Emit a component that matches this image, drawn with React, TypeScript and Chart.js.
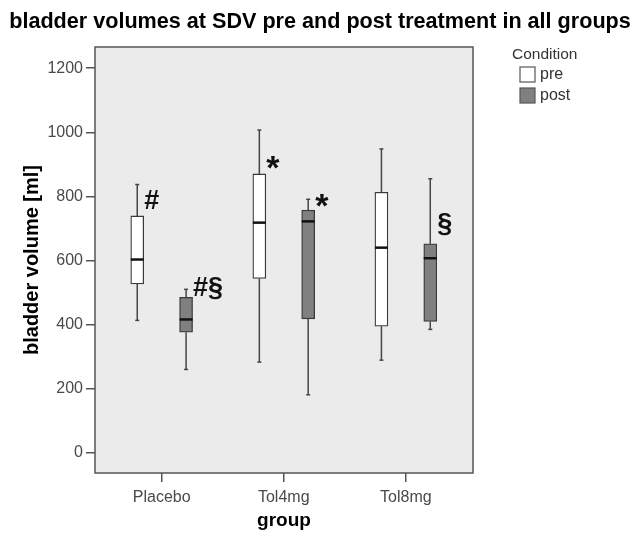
import React, { useEffect, useRef } from "react";
import { Chart, registerables } from "chart.js";

Chart.register(...registerables);

// ---- data ----
const categories = ["Placebo", "Tol4mg", "Tol8mg"];
const yTickValues = [0, 200, 400, 600, 800, 1000, 1200];
const seriesNames = ["pre", "post"];
const chartTitle = "bladder volumes at SDV pre and post treatment in all groups";
const legendTitle = "Condition";

const preMin = [413, 283, 289];
const preQ1 = [527, 544, 395];
const preMedian = [603, 718, 640];
const preQ3 = [739, 870, 813];
const preMax = [837, 1007, 948];

const postMin = [260, 181, 385];
const postQ1 = [376, 418, 410];
const postMedian = [416, 722, 607];
const postQ3 = [485, 757, 652];
const postMax = [510, 791, 855];

const preNotes = ["#", "*", ""];
const preNoteValues = [760, 853, 0];
const postNotes = ["#§", "*", "§"];
const postNoteValues = [489, 735, 690];

// ---- styles ----
const FONT = "'Liberation Sans', Arial, Helvetica, sans-serif";
const GROUP_OFFSET = 0.2;
const BOX_WIDTH = 13;
const PLOT_BG = "#ebebeb";
const PRE_FILL = "#ffffff";
const POST_FILL = "#808080";
const BOX_STROKE = "#3a3a3a";
const WHISKER = "#454545";
const AXIS_COLOR = "#555555";
const TICK_COLOR = "#4a4a4a";

const stats = [
  { min: preMin, q1: preQ1, med: preMedian, q3: preQ3, max: preMax, notes: preNotes, noteValues: preNoteValues },
  { min: postMin, q1: postQ1, med: postMedian, q3: postQ3, max: postMax, notes: postNotes, noteValues: postNoteValues },
];

const boxPlugin = {
  id: "boxExtras",
  beforeDraw(chart: any) {
    const { ctx, chartArea } = chart;
    ctx.save();
    ctx.fillStyle = "#ffffff";
    ctx.fillRect(0, 0, chart.width, chart.height);
    ctx.fillStyle = PLOT_BG;
    ctx.fillRect(chartArea.left, chartArea.top, chartArea.right - chartArea.left, chartArea.bottom - chartArea.top);
    ctx.restore();
  },
  beforeDatasetsDraw(chart: any) {
    const { ctx } = chart;
    const y = chart.scales.y;
    ctx.save();
    ctx.strokeStyle = WHISKER;
    ctx.lineWidth = 1.5;
    stats.forEach((s, d) => {
      const meta = chart.getDatasetMeta(d);
      meta.data.forEach((bar: any, i: number) => {
        const x = bar.x;
        const segs = [
          [s.q3[i], s.max[i]],
          [s.q1[i], s.min[i]],
        ];
        segs.forEach(([a, b]) => {
          ctx.beginPath();
          ctx.moveTo(x, y.getPixelForValue(a));
          ctx.lineTo(x, y.getPixelForValue(b));
          ctx.stroke();
        });
        [s.max[i], s.min[i]].forEach((v) => {
          const py = y.getPixelForValue(v);
          ctx.beginPath();
          ctx.moveTo(x - 2, py);
          ctx.lineTo(x + 2, py);
          ctx.stroke();
        });
      });
    });
    ctx.restore();
  },
  afterDatasetsDraw(chart: any) {
    const { ctx, chartArea } = chart;
    const y = chart.scales.y;
    ctx.save();
    // medians
    ctx.strokeStyle = "#111111";
    ctx.lineWidth = 2.5;
    stats.forEach((s, d) => {
      const meta = chart.getDatasetMeta(d);
      meta.data.forEach((bar: any, i: number) => {
        const py = y.getPixelForValue(s.med[i]);
        ctx.beginPath();
        ctx.moveTo(bar.x - bar.width / 2, py);
        ctx.lineTo(bar.x + bar.width / 2, py);
        ctx.stroke();
      });
    });
    // annotations
    ctx.fillStyle = "#111111";
    ctx.textAlign = "left";
    ctx.textBaseline = "alphabetic";
    stats.forEach((s, d) => {
      const meta = chart.getDatasetMeta(d);
      meta.data.forEach((bar: any, i: number) => {
        const t = s.notes[i];
        if (!t) return;
        ctx.font = `bold ${t === "*" ? 34 : 27}px ${FONT}`;
        ctx.fillText(t, bar.x + 7, y.getPixelForValue(s.noteValues[i]));
      });
    });
    // plot border
    ctx.strokeStyle = AXIS_COLOR;
    ctx.lineWidth = 1.5;
    ctx.strokeRect(chartArea.left, chartArea.top, chartArea.right - chartArea.left, chartArea.bottom - chartArea.top);
    ctx.restore();
  },
  afterDraw(chart: any) {
    const { ctx } = chart;
    ctx.save();
    // title
    ctx.fillStyle = "#000000";
    ctx.textAlign = "center";
    ctx.textBaseline = "alphabetic";
    ctx.font = `bold 21.6px ${FONT}`;
    ctx.fillText(chartTitle, 320, 27.5);
    // legend
    ctx.fillStyle = "#333333";
    ctx.textBaseline = "middle";
    ctx.textAlign = "left";
    ctx.font = `15.5px ${FONT}`;
    ctx.fillText(legendTitle, 512, 55);
    const fills = [PRE_FILL, POST_FILL];
    seriesNames.forEach((name, k) => {
      const top = 67 + k * 21;
      ctx.fillStyle = fills[k];
      ctx.fillRect(520, top, 15, 15);
      ctx.strokeStyle = "#555555";
      ctx.lineWidth = 1.2;
      ctx.strokeRect(520, top, 15, 15);
      ctx.fillStyle = "#333333";
      ctx.font = `16px ${FONT}`;
      ctx.fillText(name, 540, top + 8);
    });
    ctx.restore();
  },
};

export default function App() {
  const ref = useRef<HTMLCanvasElement | null>(null);

  useEffect(() => {
    if (!ref.current) return;
    const chart = new Chart(ref.current, {
      type: "bar",
      data: {
        datasets: [
          {
            label: seriesNames[0],
            data: categories.map((_, i) => ({ x: i - GROUP_OFFSET, y: [preQ1[i], preQ3[i]] })) as any,
            backgroundColor: PRE_FILL,
            borderColor: BOX_STROKE,
            borderWidth: 1.3,
            borderSkipped: false,
            grouped: false,
            barThickness: BOX_WIDTH,
          },
          {
            label: seriesNames[1],
            data: categories.map((_, i) => ({ x: i + GROUP_OFFSET, y: [postQ1[i], postQ3[i]] })) as any,
            backgroundColor: POST_FILL,
            borderColor: BOX_STROKE,
            borderWidth: 1.3,
            borderSkipped: false,
            grouped: false,
            barThickness: BOX_WIDTH,
          },
        ],
      },
      options: {
        animation: false,
        responsive: false,
        maintainAspectRatio: false,
        layout: { padding: { left: 0, right: 162, top: 47, bottom: 0 } },
        plugins: {
          legend: { display: false },
          tooltip: { enabled: false },
          title: { display: false },
        },
        scales: {
          x: {
            type: "linear",
            min: -0.546,
            max: 2.55,
            offset: false,
            afterBuildTicks: (scale: any) => {
              scale.ticks = categories.map((_, i) => ({ value: i }));
            },
            afterFit: (scale: any) => {
              scale.height = 62;
            },
            ticks: {
              callback: (v: any) => categories[v] ?? "",
              color: TICK_COLOR,
              font: { family: FONT, size: 16 },
              padding: 6,
              maxRotation: 0,
              autoSkip: false,
            },
            grid: {
              display: true,
              offset: false,
              drawOnChartArea: false,
              drawTicks: true,
              tickLength: 9,
              color: AXIS_COLOR,
              lineWidth: 1.5,
            },
            border: { display: false },
            title: {
              display: true,
              text: "group",
              color: "#000000",
              font: { family: FONT, size: 19, weight: "bold" },
              padding: { top: 0, bottom: 2.6 },
            },
          },
          y: {
            type: "linear",
            min: -63,
            max: 1266,
            afterBuildTicks: (scale: any) => {
              scale.ticks = yTickValues.map((v) => ({ value: v }));
            },
            afterFit: (scale: any) => {
              scale.width = 95;
            },
            ticks: {
              callback: (v: any) => String(v),
              color: TICK_COLOR,
              font: { family: FONT, size: 16 },
              padding: 3,
            },
            grid: {
              display: true,
              offset: false,
              drawOnChartArea: false,
              drawTicks: true,
              tickLength: 9,
              color: AXIS_COLOR,
              lineWidth: 1.5,
            },
            border: { display: false },
            title: {
              display: true,
              text: "bladder volume [ml]",
              color: "#000000",
              font: { family: FONT, size: 20, weight: "bold" },
              padding: { top: 20, bottom: 0 },
            },
          },
        },
      },
      plugins: [boxPlugin],
    });
    return () => chart.destroy();
  }, []);

  return (
    <div style={{ position: "fixed", left: 0, top: 0, width: 635, height: 535, background: "#fff" }}>
      <canvas ref={ref} width={635} height={535} style={{ width: 635, height: 535, display: "block" }} />
    </div>
  );
}
